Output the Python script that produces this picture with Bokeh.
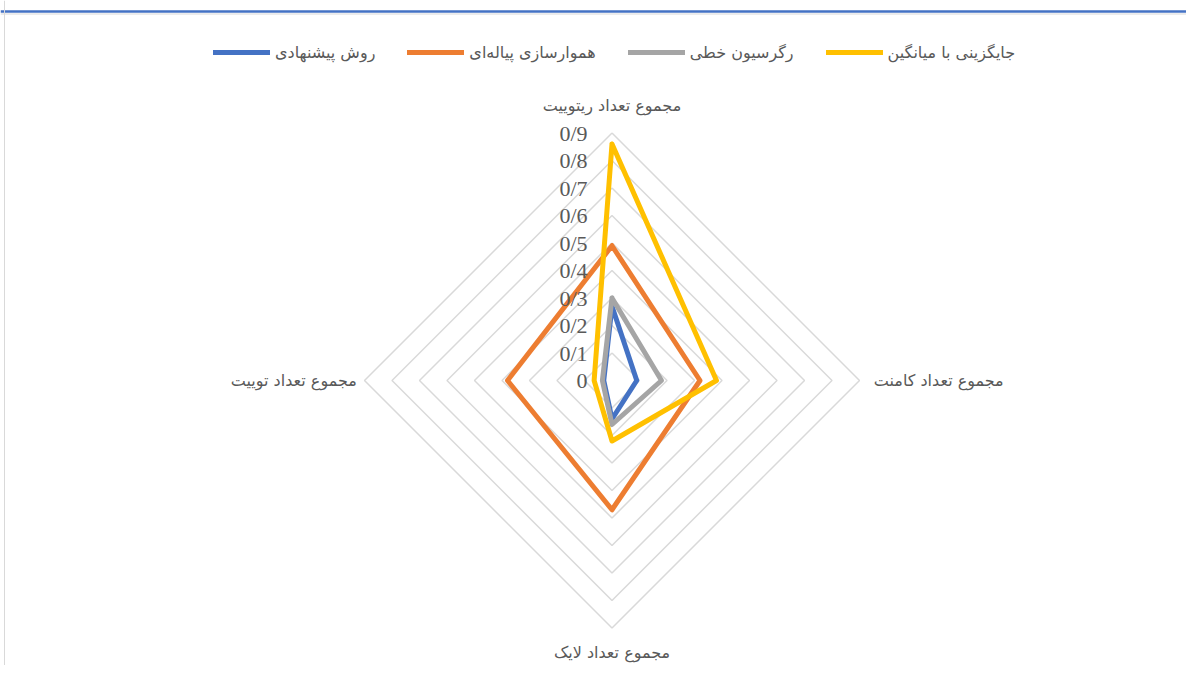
import math
from bokeh.plotting import figure
from bokeh.models import Range1d, Legend, LegendItem, Span, ColumnDataSource
from bokeh.core.properties import value
from bokeh.embed import file_html
from bokeh.resources import INLINE

# ---- data ----
categories = ["مجموع تعداد ریتوییت", "مجموع تعداد کامنت", "مجموع تعداد لایک", "مجموع تعداد توییت"]
series_names = ["روش پیشنهادی", "هموارسازی پیاله‌ای", "رگرسیون خطی", "جایگزینی با میانگین"]
proposed = [0.27, 0.09, 0.14, 0.03]
bowl = [0.49, 0.32, 0.47, 0.38]
linear = [0.30, 0.18, 0.16, 0.035]
mean_imp = [0.86, 0.38, 0.22, 0.065]
tick_values = [0, 0.1, 0.2, 0.3, 0.4, 0.5, 0.6, 0.7, 0.8, 0.9]
tick_labels = ["0", "0/1", "0/2", "0/3", "0/4", "0/5", "0/6", "0/7", "0/8", "0/9"]

series = [proposed, bowl, linear, mean_imp]
colors = ["#4472C4", "#ED7D31", "#A5A5A5", "#FFC000"]

# ---- layout ----
W, H = 1186, 665
PX = 275.0          # pixels per unit
CX, CY = 611.5, 380  # centre in figure pixels
p = figure(width=W, height=H, output_backend="svg", toolbar_location=None,
           x_range=Range1d(-CX / PX, (W - CX) / PX),
           y_range=Range1d(-(H - CY) / PX, CY / PX),
           min_border=0, outline_line_color=None, background_fill_color="white",
           border_fill_color="white")
p.axis.visible = False
p.grid.visible = False

n = len(categories)
angles = [math.pi / 2 - i * 2 * math.pi / n for i in range(n)]

def poly(vals):
    xs = [v * math.cos(a) for v, a in zip(vals, angles)]
    ys = [v * math.sin(a) for v, a in zip(vals, angles)]
    return xs + xs[:1], ys + ys[:1]

# top decoration lines
p.add_layout(Span(location=(CY - 11) / PX, dimension="width", line_color="#4472C4", line_width=2.5))
p.add_layout(Span(location=(CY - 13.5) / PX, dimension="width", line_color="#D9D9D9", line_width=1))
p.add_layout(Span(location=(4 - CX) / PX, dimension="height", line_color="#D9D9D9", line_width=1))

# grid rings
rxs, rys = [], []
for v in tick_values[1:]:
    xs, ys = poly([v] * n)
    rxs.append(xs)
    rys.append(ys)
p.multi_line(rxs, rys, line_color="#D9D9D9", line_width=1.5)

# series
items = []
for name, vals, c in zip(series_names, series, colors):
    xs, ys = poly(vals)
    r = p.line(xs, ys, line_color=c, line_width=5, line_join="round", line_cap="round")
    items.append(LegendItem(label=name, renderers=[r]))

# tick labels
tsrc = ColumnDataSource(dict(x=[-24.5 / PX] * len(tick_values), y=tick_values, t=tick_labels))
p.text(x="x", y="y", text="t", source=tsrc, text_align="right", text_baseline="middle",
       text_font=value("Liberation Serif"), text_font_size="22px", text_color="#595959")

# category labels
rmax = tick_values[-1]
offs = [0.10, 0.052, 0.09, 0.028]
aligns = ["center", "left", "center", "right"]
for cat, a, off, al in zip(categories, angles, offs, aligns):
    r = rmax + off
    p.text(x=[r * math.cos(a)], y=[r * math.sin(a)], text=[cat], text_align=al,
           text_baseline="middle", text_font=value("DejaVu Sans"), text_font_size="16px",
           text_color="#595959")

legend = Legend(items=items, orientation="horizontal", location=(213, H - 62),
                label_text_font="DejaVu Sans", label_text_font_size="16px",
                label_text_color="#595959", glyph_width=57, glyph_height=20,
                label_standoff=5, spacing=32, padding=0, margin=0,
                border_line_color=None, background_fill_alpha=0)
p.add_layout(legend)

open("out.html", "w").write(file_html(p, INLINE))
